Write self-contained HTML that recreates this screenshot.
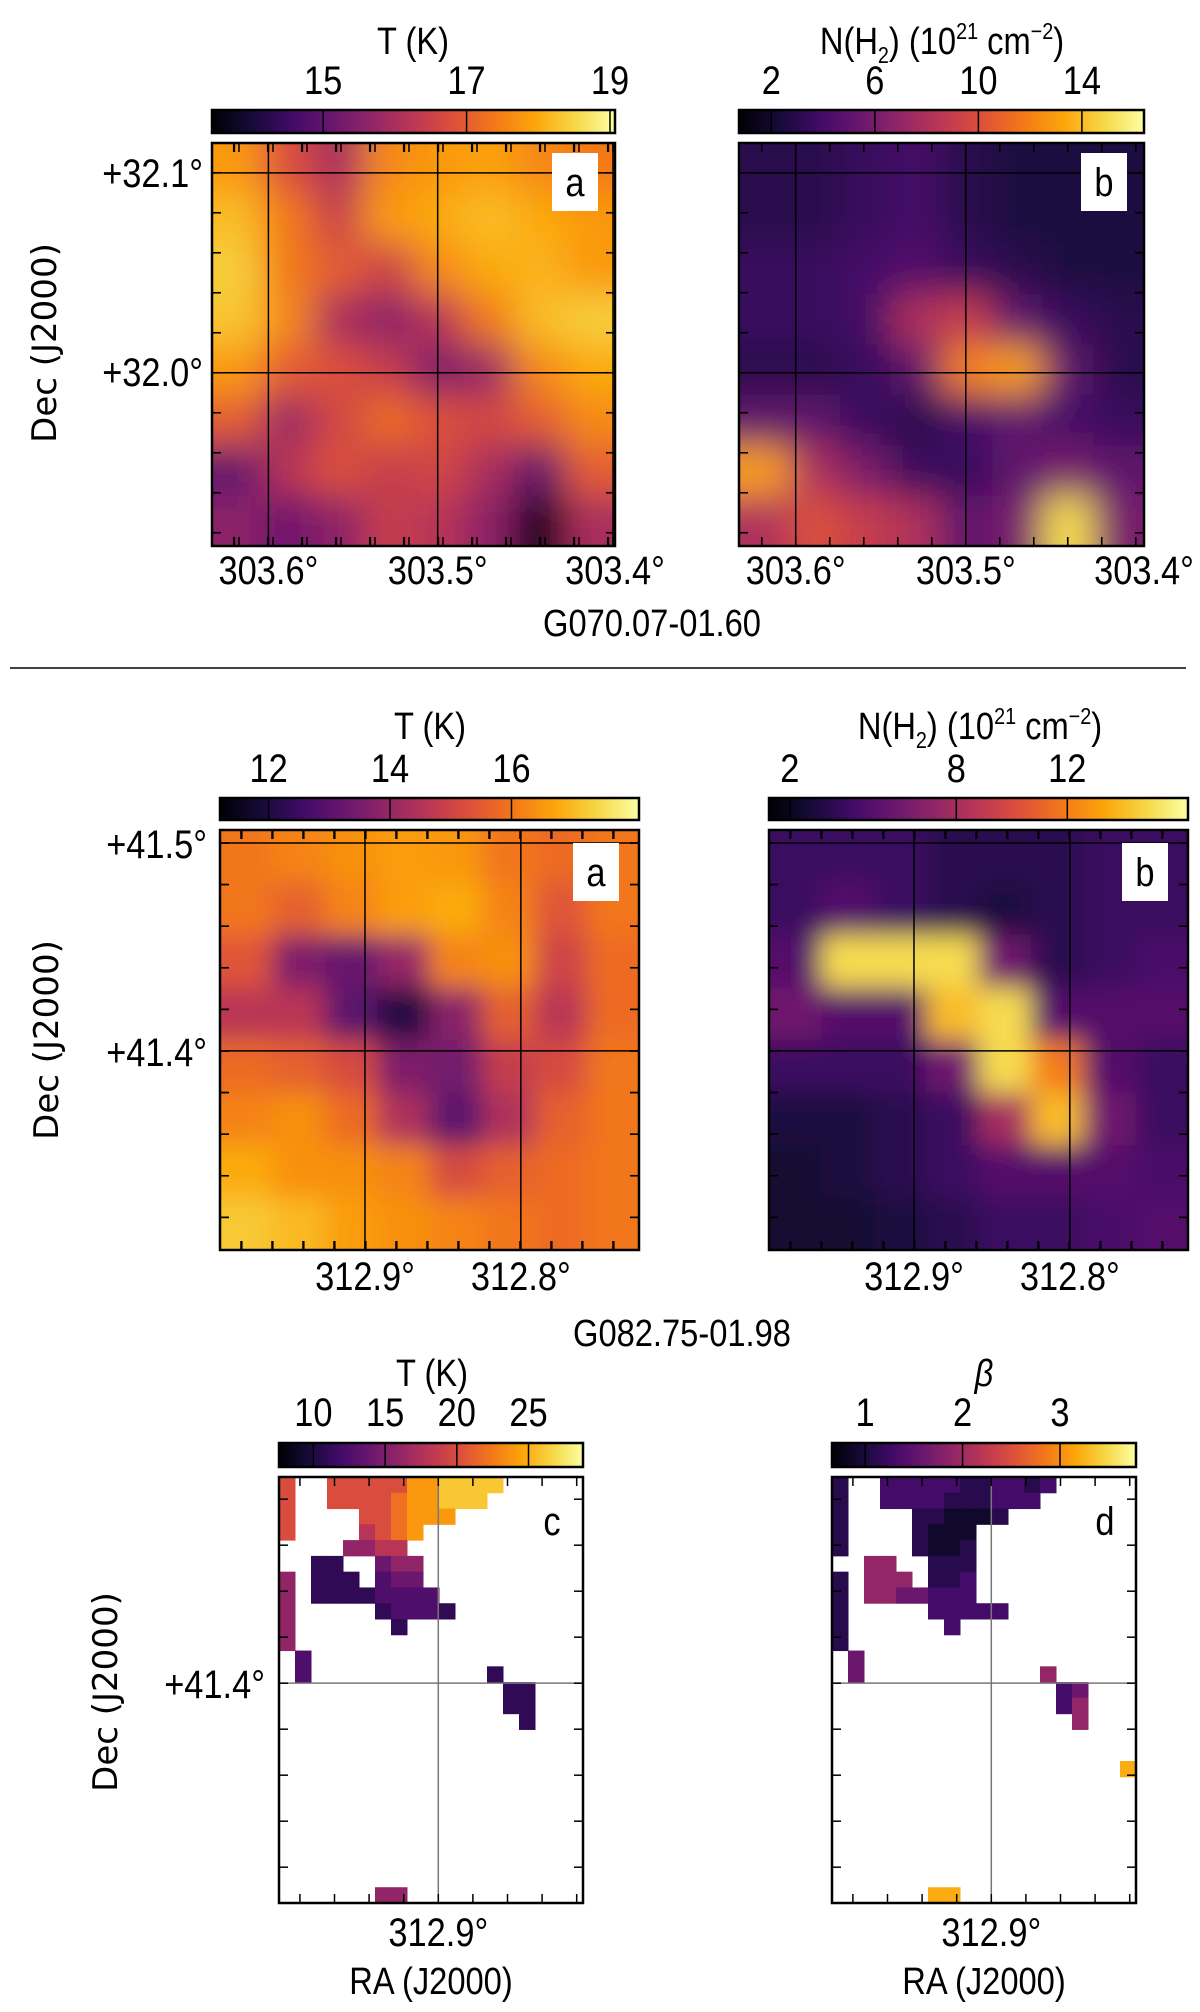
<!DOCTYPE html>
<html><head><meta charset="utf-8">
<style>
html,body{margin:0;padding:0;background:#fff;}
svg{display:block;}
text{font-family:"Liberation Sans","DejaVu Sans",sans-serif;fill:#000;}
.dec{font-family:"DejaVu Sans","Liberation Sans",sans-serif;}
</style></head>
<body>
<svg id="fig" width="1200" height="2012" viewBox="0 0 1200 2012" xmlns="http://www.w3.org/2000/svg">
<defs>
<filter id="blurA" x="-20%" y="-20%" width="140%" height="140%"><feGaussianBlur stdDeviation="18"/></filter>
<filter id="blurB" x="-20%" y="-20%" width="140%" height="140%"><feGaussianBlur stdDeviation="13"/></filter>
</defs>
<line x1="10" y1="668" x2="1186" y2="668" stroke="#000" stroke-width="1.5"/>
<text class="dec" transform="translate(56,343) rotate(-90)" font-size="34" text-anchor="middle">Dec (J2000)</text>
<text class="dec" transform="translate(58,1040) rotate(-90)" font-size="34" text-anchor="middle">Dec (J2000)</text>
<text class="dec" transform="translate(117,1692) rotate(-90)" font-size="34" text-anchor="middle">Dec (J2000)</text>
<g id="layer"></g>
</svg>
<script>
// ---------- data ----------
const tempTopTicks = [15, 17, 19];
const colTopTicks = [2, 6, 10, 14];
const tempMidTicks = [12, 14, 16];
const colMidTicks = [2, 8, 12];
const tempBotTicks = [10, 15, 20, 25];
const betaTicks = [1, 2, 3];

const tempTopGrid = [
 [17.8,16.8,16.0,17.6,17.8,17.9,17.6,17.4],
 [18.2,17.4,16.5,17.8,18.0,18.2,18.0,17.8],
 [18.4,17.4,17.0,16.5,17.6,18.0,18.1,17.8],
 [18.3,17.6,16.0,15.6,16.2,17.4,18.2,18.4],
 [17.8,17.0,16.8,16.4,15.4,15.8,17.6,18.0],
 [17.0,15.8,16.6,17.2,16.8,16.6,17.0,17.6],
 [15.0,16.2,16.8,16.4,16.6,16.0,15.0,17.0],
 [15.6,15.2,15.6,16.4,16.2,15.6,13.6,16.0]
];
const colTopGrid = [
 [3,3,3.5,4,3,2.5,2.5,2.5],
 [3,3,3.5,4,3,2.5,2.5,2.5],
 [3.5,3.5,4,4.5,3.5,3,2.5,2.5],
 [3.5,3.5,4,8,9,5,3.5,3],
 [3,3,3.5,5,12,13,5,3],
 [5,5,3.5,3,4,5,4,3.5],
 [13,8,6,3.5,3.5,5,6,5],
 [8,10,9,8,5,6,15,6]
];
const tempMidGrid = [
 [16.0,16.2,16.4,16.6,16.5,16.0,15.8,16.0],
 [16.0,15.6,16.2,16.6,16.8,16.2,15.4,16.0],
 [15.4,13.6,13.2,14.0,16.2,16.4,15.0,15.8],
 [14.6,14.6,13.0,12.0,13.8,15.6,14.6,15.8],
 [15.8,15.6,15.2,13.6,13.4,14.8,15.2,16.0],
 [16.2,16.4,15.8,14.4,13.0,14.4,15.6,16.0],
 [16.8,16.4,16.4,16.2,15.2,15.6,15.8,16.0],
 [17.2,17.0,16.6,16.4,16.2,16.0,15.8,16.0]
];
const colMidGrid = [
 [4,4,4,3.5,3.5,3.5,4,4],
 [4,5,4,3.5,3,3.5,4,4],
 [5,15,15,15,6,3.5,4,4.5],
 [6,5,5,14,15,5,5,5],
 [4,4,4,6,15,12,5,4],
 [3,3,3.5,4,8,14,6,4],
 [2.5,3,3.5,4,5,5,5,4.5],
 [2.5,2.5,3,3.5,4,4,4.5,5]
];
const tempBotLevels = {a:11,b:12.5,c:14,d:16,e:18,f:20,g:22,h:24,i:26};
const tempBotMap = [
 "f..fffffhhiiii.....",
 "f..ffffghhiii......",
 "f....ffghhh........",
 "f....efgh..........",
 "....ddee...........",
 "..aa..cdd..........",
 "d.aaa.bcc..........",
 "d.aaaabbbb.........",
 "d.....abbba........",
 "d......a...........",
 "d..................",
 ".b.................",
 ".b...........a.....",
 "..............aa...",
 "..............aa...",
 "...............a...",
 "...................","...................","...................","...................",
 "...................","...................","...................","...................",
 "...................","...................",
 "......dd..........."
];
const betaLevels = {a:0.9,b:1.1,c:1.3,d:1.6,e:1.9,f:2.2,g:3.2};
const betaMap = [
 "b..cccccbbccbc.....",
 "b..ccccbbbccc......",
 "b....bbaaab........",
 "b....baaa..........",
 "b....baab..........",
 "..ee..bbb..........",
 "b.eee.bbc..........",
 "b.eeddccc..........",
 "b.....ccccc........",
 "b......c...........",
 "b..................",
 ".d.................",
 ".d...........e.....",
 "..............cd...",
 "..............ce...",
 "...............e...",
 "...................","...................",
 "..................g",
 "...................","...................","...................","...................",
 "...................","...................","...................",
 "......gg..........."
];

// ---------- helpers ----------
const NS = "http://www.w3.org/2000/svg";
const layer = document.getElementById('layer');
const SX = 0.86;
const stops = ["#000004","#160b39","#420a68","#6a176e","#932667","#bc3754","#dd513a","#f37819","#fca50a","#f6d746","#fcffa4"];
function hex(h){return [parseInt(h.slice(1,3),16),parseInt(h.slice(3,5),16),parseInt(h.slice(5,7),16)];}
function inferno(f){
  f=Math.max(0,Math.min(1,f));
  const p=f*10, i=Math.min(9,Math.floor(p)), t=p-i;
  const a=hex(stops[i]), b=hex(stops[i+1]);
  return "rgb("+a.map((v,k)=>Math.round(v+(b[k]-v)*t)).join(",")+")";
}
function mk(tag, attrs, parent){
  const e=document.createElementNS(NS,tag);
  for(const k in attrs) e.setAttribute(k,attrs[k]);
  (parent||layer).appendChild(e);
  return e;
}
let clipId=0;

function ctext(txt, x, y, size, anchor, parent){
  const t=mk('text',{x:0,y:0,'font-size':size,'text-anchor':anchor||'middle',transform:'translate('+x+','+y+') scale('+SX+',1)'},parent);
  t.textContent=txt;
  return t;
}

function colorbar(name, x, y, w, h, vmin, vmax, ticks, labelY){
  const g=mk('g',{});
  
  
  const gid='grad'+name;
  const lg=mk('linearGradient',{id:gid,x1:0,y1:0,x2:1,y2:0},g);
  for(let i=0;i<stops.length;i++) mk('stop',{offset:i/10,'stop-color':stops[i]},lg);
  mk('rect',{x:x,y:y,width:w,height:h,fill:'url(#'+gid+')',stroke:'#000','stroke-width':2.5},g);
  ticks.forEach(t=>{
    const tx=x+(t-vmin)/(vmax-vmin)*w;
    const ln=mk('line',{x1:tx,y1:y,x2:tx,y2:y+h,stroke:'#000','stroke-width':1.5},g);
    
    
    const tl=ctext(String(t), tx, labelY, 40, 'middle', g);
    
    
  });
}

function frame(name, x, y, w, h, vlines, hlines, dx, dy, lineColor){
  const g=mk('g',{});
  
  
  vlines.forEach(f=>{
    const lx=x+f*w;
    mk('line',{x1:lx,y1:y,x2:lx,y2:y+h,stroke:lineColor,'stroke-width':1.5},g);
    for(let k=-20;k<=20;k++){const tx=lx+k*dx; if(tx>x+2&&tx<x+w-2){
      mk('line',{x1:tx,y1:y+h,x2:tx,y2:y+h-9,stroke:'#000','stroke-width':1.5},g);
      mk('line',{x1:tx,y1:y,x2:tx,y2:y+9,stroke:'#000','stroke-width':1.5},g);}}
  });
  hlines.forEach(f=>{
    const ly=y+f*h;
    mk('line',{x1:x,y1:ly,x2:x+w,y2:ly,stroke:lineColor,'stroke-width':1.5},g);
    for(let k=-20;k<=20;k++){const ty=ly+k*dy; if(ty>y+2&&ty<y+h-2){
      mk('line',{x1:x,y1:ty,x2:x+9,y2:ty,stroke:'#000','stroke-width':1.5},g);
      mk('line',{x1:x+w,y1:ty,x2:x+w-9,y2:ty,stroke:'#000','stroke-width':1.5},g);}}
  });
  mk('rect',{x:x,y:y,width:w,height:h,fill:'none',stroke:'#000','stroke-width':2.5},g);
}

function smoothMap(name, grid, vmin, vmax, x, y, w, h, filt){
  const R=grid.length, C=grid[0].length, cw=w/C, ch=h/R;
  const id='clip'+(clipId++);
  const cp=mk('clipPath',{id:id}); mk('rect',{x:x,y:y,width:w,height:h},cp);
  const outer=mk('g',{'clip-path':'url(#'+id+')'});
  
  
  const inner=mk('g',{filter:'url(#'+filt+')'},outer);
  for(let r=-2;r<=R+1;r++) for(let c=-2;c<=C+1;c++){
    const v=grid[Math.max(0,Math.min(R-1,r))][Math.max(0,Math.min(C-1,c))];
    const cell=mk('rect',{x:x+c*cw,y:y+r*ch,width:cw+1,height:ch+1,fill:inferno((v-vmin)/(vmax-vmin))},inner);
    
    
  }
}

function sparseMap(name, map, levels, vmin, vmax, x, y, w, h){
  const R=map.length, C=map[0].length, cw=w/C, ch=h/R;
  const g=mk('g',{});
  
  
  map.forEach((row,r)=>{ for(let c=0;c<row.length;c++){ const k=row[c]; if(k==='.') continue;
    const v=levels[k];
    const cell=mk('rect',{x:x+c*cw,y:y+r*ch,width:cw+0.5,height:ch+0.5,fill:inferno((v-vmin)/(vmax-vmin))},g);
    
    
  }});
}

function label(txt, x, y, size, anchor, name){
  const t=ctext(txt, x, y, size, anchor);
  
  
  return t;
}
function nh2Label(cx, y, name){
  const t=mk('text',{x:0,y:0,'font-size':38,'text-anchor':'middle',transform:'translate('+cx+','+y+') scale('+SX+',1)'});
  
  
  t.innerHTML='N(H<tspan font-size="23" dy="9">2</tspan><tspan dy="-9">) (10</tspan><tspan font-size="23" dy="-15">21</tspan><tspan dy="15"> cm</tspan><tspan font-size="23" dy="-15">−2</tspan><tspan dy="15">)</tspan>';
}
function letterBox(x, y, ch, name){
  mk('rect',{x:x,y:y,width:46,height:58,fill:'#fff'});
  label(ch, x+23, y+43, 40, 'middle', name);
}

// ---------- TOP ROW ----------
const TA={x:212,y:143,w:403,h:403}, TB={x:739,y:143,w:405,h:403};
smoothMap('temperature-map-a-top', tempTopGrid, 13.45, 19.07, TA.x, TA.y, TA.w, TA.h, 'blurA');
smoothMap('column-density-map-b-top', colTopGrid, 0.75, 16.4, TB.x, TB.y, TB.w, TB.h, 'blurA');
frame('panel-a-top', TA.x, TA.y, TA.w, TA.h, [0.14,0.56,0.995], [0.074,0.57], 34, 40, '#000');
frame('panel-b-top', TB.x, TB.y, TB.w, TB.h, [0.14,0.56], [0.074,0.57], 34, 40, '#000');
letterBox(552,153,'a','panel-label-a-top');
letterBox(1081,153,'b','panel-label-b-top');
colorbar('temperature-colorbar-top', 212,110,403,23, 13.45,19.07, tempTopTicks, 94);
colorbar('column-density-colorbar-top', 739,110,405,23, 0.75,16.4, colTopTicks, 94);
label('T (K)', 413, 54, 38, 'middle', 'colorbar-title-t-top');
nh2Label(942, 54, 'colorbar-title-nh2-top');
label('+32.1°', 203, 187, 40, 'end', 'y-tick-32.1');
label('+32.0°', 203, 386, 40, 'end', 'y-tick-32.0');
[['303.6°',0.14],['303.5°',0.56],['303.4°',1.0]].forEach(p=>{
  label(p[0], TA.x+p[1]*TA.w, 584, 40, 'middle', 'x-tick-a-top');
  label(p[0], TB.x+p[1]*TB.w, 584, 40, 'middle', 'x-tick-b-top');
});
label('G070.07-01.60', 652, 636, 38, 'middle', 'source-title-g070');

// ---------- MIDDLE ROW ----------
const MA={x:220,y:830,w:419,h:420}, MB={x:769,y:830,w:419,h:420};
smoothMap('temperature-map-a-middle', tempMidGrid, 11.2, 18.1, MA.x, MA.y, MA.w, MA.h, 'blurB');
smoothMap('column-density-map-b-middle', colMidGrid, 1.25, 16.35, MB.x, MB.y, MB.w, MB.h, 'blurB');
frame('panel-a-middle', MA.x, MA.y, MA.w, MA.h, [0.346,0.718], [0.031,0.526], 31, 41.6, '#000');
frame('panel-b-middle', MB.x, MB.y, MB.w, MB.h, [0.346,0.718], [0.031,0.526], 31, 41.6, '#000');
letterBox(573,843,'a','panel-label-a-middle');
letterBox(1122,843,'b','panel-label-b-middle');
colorbar('temperature-colorbar-middle', 220,798,419,22, 11.2,18.1, tempMidTicks, 782);
colorbar('column-density-colorbar-middle', 769,798,419,22, 1.25,16.35, colMidTicks, 782);
label('T (K)', 430, 739, 38, 'middle', 'colorbar-title-t-middle');
nh2Label(980, 739, 'colorbar-title-nh2-middle');
label('+41.5°', 207, 858, 40, 'end', 'y-tick-41.5');
label('+41.4°', 207, 1066, 40, 'end', 'y-tick-41.4');
[['312.9°',0.346],['312.8°',0.718]].forEach(p=>{
  label(p[0], MA.x+p[1]*MA.w, 1290, 40, 'middle', 'x-tick-a-middle');
  label(p[0], MB.x+p[1]*MB.w, 1290, 40, 'middle', 'x-tick-b-middle');
});
label('G082.75-01.98', 682, 1346, 38, 'middle', 'source-title-g082');

// ---------- BOTTOM ROW ----------
const BC={x:279,y:1477,w:304,h:426}, BD={x:832,y:1477,w:304,h:426};
sparseMap('temperature-map-c', tempBotMap, tempBotLevels, 7.6, 28.8, BC.x, BC.y, BC.w, BC.h);
sparseMap('beta-map-d', betaMap, betaLevels, 0.66, 3.78, BD.x, BD.y, BD.w, BD.h);
frame('panel-c', BC.x, BC.y, BC.w, BC.h, [0.524], [0.484], 34.6, 46, '#777');
frame('panel-d', BD.x, BD.y, BD.w, BD.h, [0.524], [0.484], 34.6, 46, '#777');
label('c', 552, 1535, 40, 'middle', 'panel-label-c');
label('d', 1105, 1535, 40, 'middle', 'panel-label-d');
colorbar('temperature-colorbar-bottom', 279,1443,304,24, 7.6,28.8, tempBotTicks, 1426);
colorbar('beta-colorbar', 832,1443,304,24, 0.66,3.78, betaTicks, 1426);
label('T (K)', 432, 1386, 38, 'middle', 'colorbar-title-t-bottom');
const bt=label('β', 984, 1386, 38, 'middle', 'colorbar-title-beta');
bt.setAttribute('font-style','italic');
label('+41.4°', 265, 1698, 40, 'end', 'y-tick-41.4-bottom');
label('312.9°', BC.x+0.524*BC.w, 1946, 40, 'middle', 'x-tick-c');
label('312.9°', BD.x+0.524*BD.w, 1946, 40, 'middle', 'x-tick-d');
label('RA (J2000)', 431, 1994, 38, 'middle', 'x-axis-title-c');
label('RA (J2000)', 984, 1994, 38, 'middle', 'x-axis-title-d');
</script>
</body></html>
